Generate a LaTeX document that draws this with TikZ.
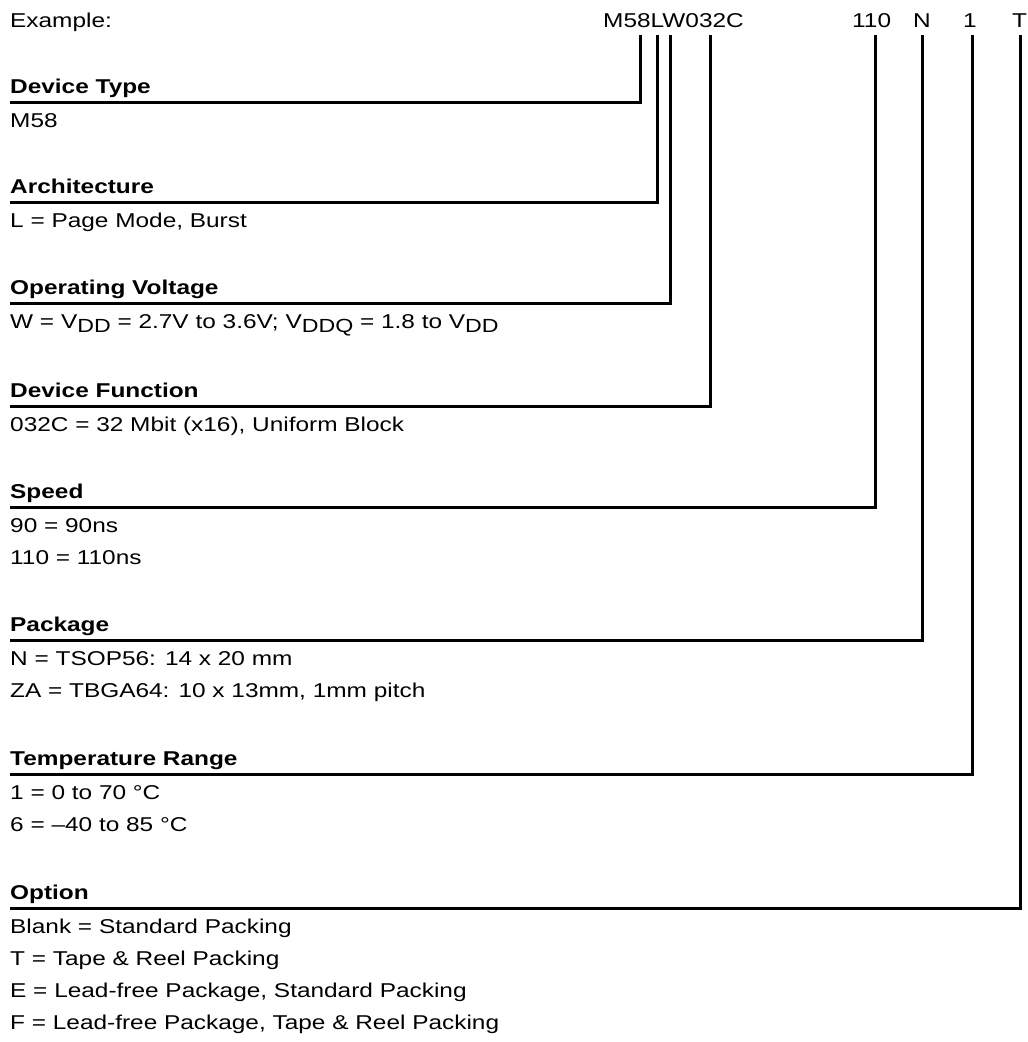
\documentclass[tikz,border=0pt]{standalone}
\usepackage{fontspec}
\setmainfont{Liberation Sans}[FakeStretch=1.22]
\newcommand\mysub[1]{\raisebox{-4pt}{\fontsize{19}{19}\selectfont #1}}
\begin{document}
\begin{tikzpicture}[x=1pt,y=-1pt,
  txt/.style={anchor=base west,inner sep=0pt,font=\fontsize{20}{24}\selectfont},
  head/.style={anchor=base west,inner sep=0pt,font=\fontsize{20}{24}\selectfont\bfseries},
  lead/.style={line width=3pt,line join=miter}]
\useasboundingbox (0,0) rectangle (1028,1042);
% header
\node[txt] (ex) at (10,27) {Example:};
\node[txt] (code) at (603,27) {M58LW032C};
\node[txt] (spd) at (852,27) {110};
\node[txt] (pkg) at (913,27) {N};
\node[txt] (tmp) at (963,27) {1};
\node[txt] (opt) at (1012,27) {T};
% tops of leaders
\coordinate (tDT) at (640,35);
\coordinate (tAR) at (657,35);
\coordinate (tOV) at (670,35);
\coordinate (tDF) at (710,35);
\coordinate (tSP) at (875,35);
\coordinate (tPK) at (922,35);
\coordinate (tTR) at (972,35);
\coordinate (tOP) at (1020,35);
% left ends
\coordinate (eDT) at (10,102);
\coordinate (eAR) at (10,202);
\coordinate (eOV) at (10,303);
\coordinate (eDF) at (10,406);
\coordinate (eSP) at (10,507);
\coordinate (ePK) at (10,640);
\coordinate (eTR) at (10,774);
\coordinate (eOP) at (10,908);
\foreach \k in {DT,AR,OV,DF,SP,PK,TR,OP} {\draw[lead] (t\k) |- (e\k);}
% headings and items
\node[head] (hDT) at (10,93) {Device Type};
\node[txt] (iDT1) at (10,127) {M58};
\node[head] (hAR) at (10,193) {Architecture};
\node[txt] (iAR1) at (10,227) {L = Page Mode, Burst};
\node[head] (hOV) at (10,294) {Operating Voltage};
\node[txt] (iOV1) at (10,328) {W = V\mysub{DD} = 2.7V to 3.6V; V\mysub{DDQ} = 1.8 to V\mysub{DD}};
\node[head] (hDF) at (10,397) {Device Function};
\node[txt] (iDF1) at (10,431) {032C = 32 Mbit (x16), Uniform Block};
\node[head] (hSP) at (10,498) {Speed};
\node[txt] (iSP1) at (10,532) {90 = 90ns};
\node[txt] (iSP2) at (10,564) {110 = 110ns};
\node[head] (hPK) at (10,631) {Package};
\node[txt] (iPK1) at (10,665) {N = TSOP56: 14 x 20 mm};
\node[txt] (iPK2) at (10,697) {ZA = TBGA64: 10 x 13mm, 1mm pitch};
\node[head] (hTR) at (10,765) {Temperature Range};
\node[txt] (iTR1) at (10,799) {1 = 0 to 70 °C};
\node[txt] (iTR2) at (10,831) {6 = –40 to 85 °C};
\node[head] (hOP) at (10,899) {Option};
\node[txt] (iOP1) at (10,933) {Blank = Standard Packing};
\node[txt] (iOP2) at (10,965) {T = Tape \& Reel Packing};
\node[txt] (iOP3) at (10,997) {E = Lead-free Package, Standard Packing};
\node[txt] (iOP4) at (10,1029) {F = Lead-free Package, Tape \& Reel Packing};
\end{tikzpicture}
\end{document}
